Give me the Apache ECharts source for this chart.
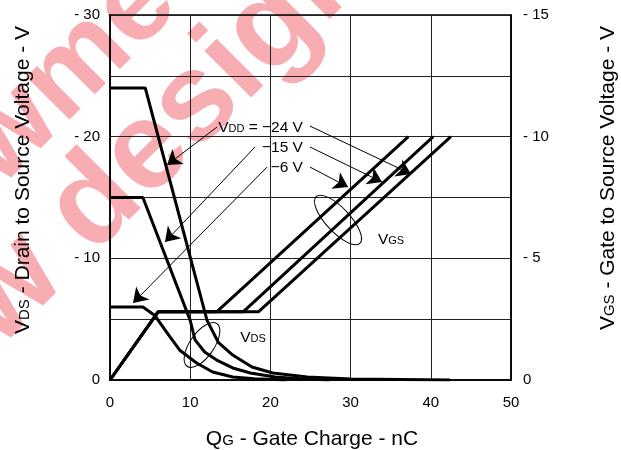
<!DOCTYPE html>
<html><head><meta charset="utf-8">
<script src="https://cdn.jsdelivr.net/npm/echarts@6/dist/echarts.min.js"></script>
<style>html,body{margin:0;padding:0;background:#fff}#c{width:621px;height:450px}</style>
</head><body><div id="c"></div>
<script>
const FONT = "'Liberation Sans', Arial, sans-serif";

// Gate charge Qg (nC) vs |VDS| (V), for VDD = -24, -15, -6 V
const vds24 = [[0,24],[4.4,24],[12.1,4.9],[13.5,3.1],[15.3,2.05],[17.7,1.07],[20.3,0.58],[24.6,0.25],[30,0.08],[42.4,0]];
const vds15 = [[0,15],[4.1,15],[10.0,4.9],[10.6,3.3],[11.8,2.3],[13.3,1.64],[15.3,0.99],[17.5,0.58],[20.6,0.25],[23.7,0.1],[27.4,0]];
const vds6  = [[0,6],[4.1,6],[5.6,5.3],[7.3,3.7],[8.7,2.45],[10.8,1.4],[12.8,0.66],[15.3,0.25],[18,0.1],[22,0]];
// Gate charge Qg (nC) vs |VGS| (V)
const vgs24 = [[0,0],[6,2.8],[18.5,2.8],[42.5,10]];
const vgs15 = [[0,0],[6,2.8],[16.6,2.8],[40.3,10]];
const vgs6  = [[0,0],[6,2.8],[13.3,2.8],[37.2,10]];

const xTickValues = [0,10,20,30,40,50];
const vdsTickValues = [0,10,20,30];
const vgsTickValues = [0,5,10,15];
const vddLabels = ['{a|V}{s|DD}{a| = \u221224 V}','{a|\u221215 V}','{a|\u22126 V}'];

// annotation placement (data coords on x / left axis)
const labelPos = [[24.06,20.87],[24.06,19.23],[24.06,17.58]];
const arrowLines = [
  [[13.34,20.79],[7.11,17.67]],
  [[18.08,19.15],[6.86,11.34]],
  [[19.58,17.50],[2.87,6.33]],
  [[24.94,20.87],[37.53,16.93]],
  [[24.94,19.15],[33.92,16.27]],
  [[24.94,17.50],[29.68,15.86]]
];

const chart = echarts.init(document.getElementById('c'), null, {renderer:'canvas'});

const lineSeries = (name, data, yIdx) => ({
  name, type:'line', data, yAxisIndex:yIdx, showSymbol:false, symbol:'none',
  lineStyle:{color:'#000', width:3}, itemStyle:{color:'#000'}, silent:true, z:3,
  emphasis:{disabled:true}
});

const s0 = lineSeries('VDS -24', vds24, 0);
s0.markLine = {
  silent:true, symbol:['none','arrow'], symbolSize:14, label:{show:false},
  lineStyle:{color:'#000', width:1, type:'solid'}, emphasis:{disabled:true},
  animation:false,
  data: arrowLines.map(a => [{coord:a[0]},{coord:a[1]}])
};

const option = {
  animation:false,
  backgroundColor:'#fff',
  textStyle:{fontFamily:FONT},
  grid:{left:110, right:110, top:15, bottom:70, show:true, borderColor:'#000', borderWidth:1.5, backgroundColor:'transparent'},
  xAxis:{
    type:'value', min:0, max:50, interval:10,
    axisLine:{show:true, lineStyle:{color:'#000', width:1.5}},
    axisTick:{show:false},
    splitLine:{show:true, lineStyle:{color:'#222', width:1}},
    axisLabel:{color:'#000', fontSize:15, fontFamily:FONT, margin:15,
      formatter:v => xTickValues.includes(v) ? String(v) : ''}
  },
  yAxis:[{
    type:'value', min:0, max:30, interval:5,
    axisLine:{show:true, lineStyle:{color:'#000', width:1.5}},
    axisTick:{show:false},
    splitLine:{show:true, lineStyle:{color:'#222', width:1}},
    axisLabel:{color:'#000', fontSize:15, fontFamily:FONT, margin:10,
      formatter:v => vdsTickValues.includes(v) ? (v===0 ? '0' : '- ' + v) : ''}
  },{
    type:'value', min:0, max:15, interval:2.5, position:'right',
    axisLine:{show:true, lineStyle:{color:'#000', width:1.5}},
    axisTick:{show:false},
    splitLine:{show:false},
    axisLabel:{color:'#000', fontSize:15, fontFamily:FONT, margin:12,
      formatter:v => vgsTickValues.includes(v) ? (v===0 ? '0' : '- ' + v) : ''}
  }],
  series:[
    s0,
    lineSeries('VDS -15', vds15, 0),
    lineSeries('VDS -6', vds6, 0),
    lineSeries('VGS -24', vgs24, 1),
    lineSeries('VGS -15', vgs15, 1),
    lineSeries('VGS -6', vgs6, 1)
  ]
};
chart.setOption(option);

const px = p => chart.convertToPixel({xAxisIndex:0, yAxisIndex:0}, p);
const richMain = (size) => ({
  a:{fontSize:size, fontFamily:FONT, color:'#000', verticalAlign:'bottom', lineHeight:size+4},
  s:{fontSize:Math.round(size*0.72), fontFamily:FONT, color:'#000', verticalAlign:'bottom', lineHeight:size+4, padding:[0,0,1,0]}
});
const txt = (x, y, text, size, align, rot) => ({
  type:'text', x, y, rotation:rot||0, silent:true, z:10,
  style:{text, rich:richMain(size), align:align, textAlign:align, verticalAlign:'middle', textVerticalAlign:'middle', fill:'#000'}
});

const graphics = [];
// watermark
const WM = '#f8adb2';
const WA = 45 * Math.PI / 180;
graphics.push({type:'text', x:-22, y:166, rotation:WA, silent:true, z:-1,
  style:{text:'wme', font:'bold 115px ' + FONT, fill:WM, align:'left', textAlign:'left', verticalAlign:'middle', textVerticalAlign:'middle'}});
graphics.push({type:'text', x:-25, y:325, rotation:WA, silent:true, z:-1,
  style:{text:'w design', font:'bold 125px ' + FONT, fill:WM, align:'left', textAlign:'left', verticalAlign:'middle', textVerticalAlign:'middle'}});

// VDD labels
vddLabels.forEach((t, i) => {
  const p = px(labelPos[i]);
  graphics.push(txt(p[0], p[1], t, 15.5, 'right'));
});
// VGS / VDS labels
let p = px([35.04, 11.67]);
graphics.push(txt(p[0], p[1], '{a|V}{s|GS}', 15.5, 'center'));
p = px([17.83, 3.62]);
graphics.push(txt(p[0], p[1], '{a|V}{s|DS}', 15.5, 'center'));
// ellipses
p = px([28.43, 13.15]);
graphics.push({type:'ellipse', x:p[0], y:p[1], rotation:-0.82, silent:true, z:10,
  shape:{cx:0, cy:0, rx:32, ry:12}, style:{fill:'none', stroke:'#000', lineWidth:1}});
p = px([11.47, 2.88]);
graphics.push({type:'ellipse', x:p[0], y:p[1], rotation:0.96, silent:true, z:10,
  shape:{cx:0, cy:0, rx:26, ry:12}, style:{fill:'none', stroke:'#000', lineWidth:1}});
// axis titles
graphics.push(txt(312, 437, '{a|Q}{s|G}{a| - Gate Charge - nC}', 21, 'center'));
graphics.push(txt(21, 180, '{a|V}{s|DS}{a| - Drain to Source Voltage - V}', 21, 'center', Math.PI/2));
graphics.push(txt(606, 178, '{a|V}{s|GS}{a| - Gate to Source Voltage - V}', 21, 'center', Math.PI/2));

chart.setOption({graphic:{elements:graphics}});
</script>
</body></html>
